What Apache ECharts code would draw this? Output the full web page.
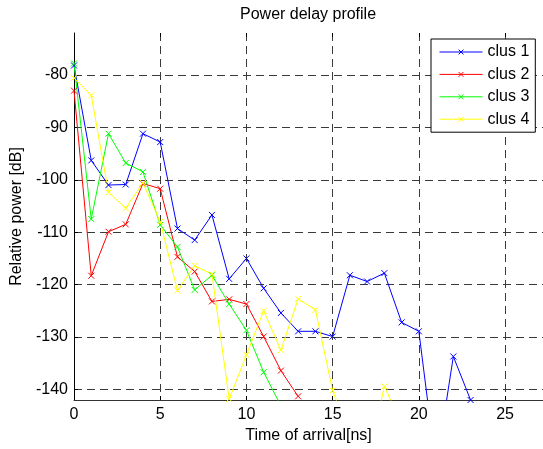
<!DOCTYPE html>
<html>
<head>
<meta charset="utf-8">
<script src="https://cdn.jsdelivr.net/npm/echarts@6/dist/echarts.min.js"></script>
<style>
  html, body { margin: 0; padding: 0; background: #fff; }
  #chart { width: 543px; height: 449px; }
</style>
</head>
<body>
<div id="chart"></div>
<script>
// time of arrival in ns, one sample per ns
const delays = [0, 1, 2, 3, 4, 5, 6, 7, 8, 9, 10, 11, 12, 13, 14, 15, 16, 17, 18, 19, 20, 21, 22, 23]
const clus1 = [-78.2, -96.3, -101.0, -100.9, -91.2, -92.8, -109.3, -111.5, -106.7, -118.9, -115.0, -120.7,
  -125.4, -128.9, -128.9, -129.9, -118.2, -119.4, -117.8, -127.2, -128.9, -155.0, -133.7, -142.0]
const clus2 = [-83.0, -118.3, -109.9, -108.5, -100.7, -101.7, -114.7, -117.5, -123.2, -122.8, -123.7, -129.9,
  -136.4, -141.3]
const clus3 = [-77.8, -107.5, -91.2, -96.8, -98.5, -108.6, -112.8, -121.0, -118.2, -123.7, -128.7, -136.7, -143.1]
const clus4 = [-80.6, -83.9, -102.4, -105.4, -100.6, -108.0, -121.1, -116.4, -118.0, -141.8, -133.4, -125.0,
  -132.5, -122.7, -124.8, -140.2, -149.0, -154.0, -139.4, -146.6]
const names = ['clus 1', 'clus 2', 'clus 3', 'clus 4']
const colors = ['#0000ff', '#ff0000', '#00ff00', '#ffff00']
const xTicks = [0, 5, 10, 15, 20, 25]

const font = '"Liberation Sans", Arial, Helvetica, sans-serif'
const crossMark = 'path://M0,0L10,10M0,10L10,0'

function makeSeries (name, values, color) {
  return {
    name: name,
    type: 'line',
    data: values.map((v, i) => [delays[i], v]),
    symbol: crossMark,
    symbolSize: 6,
    showAllSymbol: true,
    lineStyle: { color: color, width: 1 },
    itemStyle: { color: color, borderColor: color, borderWidth: 1 },
    emphasis: { disabled: true },
    animation: false
  }
}

let chart = echarts.init(document.getElementById('chart'), null, { renderer: 'canvas' })
chart.setOption({
  animation: false,
  backgroundColor: '#fff',
  textStyle: { fontFamily: font },
  title: {
    text: 'Power delay profile',
    left: 240,
    top: 7,
    padding: 0,
    textStyle: { fontFamily: font, fontSize: 16, fontWeight: 'normal', color: '#000' }
  },
  legend: {
    orient: 'vertical',
    left: 431,
    top: 39,
    padding: [5, 6, 5, 8],
    itemWidth: 43,
    itemHeight: 6,
    itemGap: 6.4,
    backgroundColor: '#fff',
    borderColor: '#000',
    borderWidth: 1,
    borderRadius: 0,
    lineStyle: { width: 1 },
    itemStyle: { borderWidth: 1 },
    textStyle: { fontFamily: font, fontSize: 16, color: '#000', lineHeight: 16 },
    data: names
  },
  grid: { left: 74, right: 0, top: 33, bottom: 48, containLabel: false },
  xAxis: [{
    type: 'value',
    min: 0,
    max: 27.2,
    interval: 5,
    name: 'Time of arrival[ns]',
    nameLocation: 'middle',
    nameGap: 28,
    nameTextStyle: { fontFamily: font, fontSize: 16, color: '#000' },
    axisLine: { show: true, onZero: false, lineStyle: { color: '#333', width: 1 } },
    axisTick: { show: true, inside: true, length: 4, lineStyle: { color: '#000' } },
    axisLabel: {
      fontFamily: font, fontSize: 16, color: '#000', margin: 7,
      showMaxLabel: false,
      formatter: v => (xTicks.indexOf(v) >= 0 ? String(v) : '')
    },
    splitLine: {
      show: true,
      showMinLine: false,
      showMaxLine: false,
      lineStyle: { color: '#3a3a3a', type: [8, 5], width: 1 }
    }
  }, {
    type: 'value',
    position: 'top',
    min: 0,
    max: 27.2,
    interval: 5,
    axisLine: { show: false },
    axisTick: { show: true, inside: true, length: 4, lineStyle: { color: '#000' } },
    axisLabel: { show: false },
    splitLine: { show: false }
  }],
  yAxis: {
    type: 'value',
    min: -142,
    max: -72,
    splitNumber: 7,
    name: 'Relative power [dB]',
    nameLocation: 'middle',
    nameRotate: 90,
    nameGap: 46,
    nameTextStyle: { fontFamily: font, fontSize: 16, color: '#000' },
    axisLine: { show: true, onZero: false, lineStyle: { color: '#000', width: 1 } },
    axisTick: { show: true, inside: true, length: 4, lineStyle: { color: '#000' } },
    axisLabel: {
      fontFamily: font, fontSize: 16, color: '#000', margin: 6,
      showMinLabel: false,
      showMaxLabel: false,
      formatter: v => (v % 10 === 0 ? String(v) : '')
    },
    splitLine: {
      show: true,
      showMinLine: false,
      showMaxLine: false,
      lineStyle: { color: '#3a3a3a', type: [8, 5], width: 1 }
    }
  },
  series: [
    makeSeries(names[0], clus1, colors[0]),
    makeSeries(names[1], clus2, colors[1]),
    makeSeries(names[2], clus3, colors[2]),
    makeSeries(names[3], clus4, colors[3])
  ]
})
</script>
</body>
</html>
